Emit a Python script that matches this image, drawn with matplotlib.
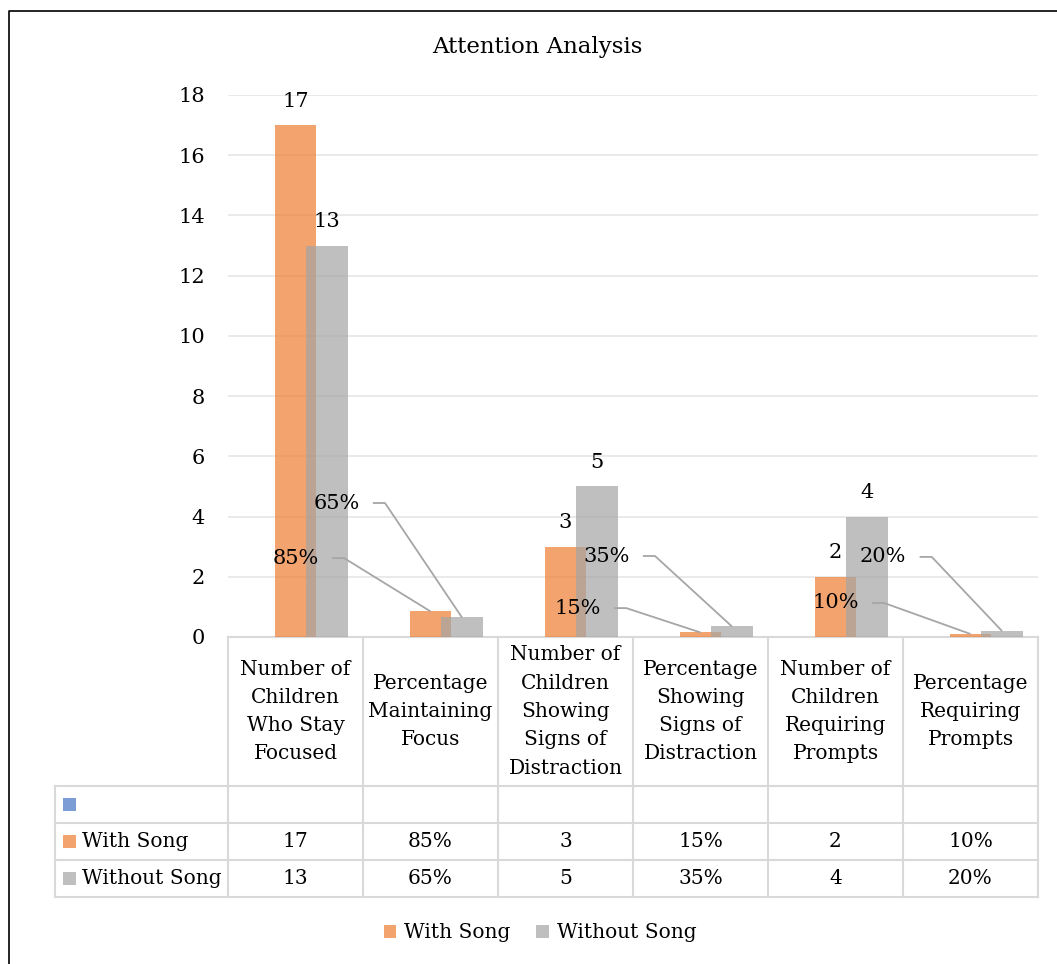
import numpy as np
import matplotlib.pyplot as plt
from matplotlib.lines import Line2D
from matplotlib.patches import Rectangle, Patch

plt.rcParams['font.family'] = ['DejaVu Serif']
plt.rcParams['font.size'] = 14.5

# data
title = 'Attention Analysis'
categories = ['Number of\nChildren\nWho Stay\nFocused',
              'Percentage\nMaintaining\nFocus',
              'Number of\nChildren\nShowing\nSigns of\nDistraction',
              'Percentage\nShowing\nSigns of\nDistraction',
              'Number of\nChildren\nRequiring\nPrompts',
              'Percentage\nRequiring\nPrompts']
series_names = ['', 'With Song', 'Without Song']
blank = [np.nan] * 6
with_song = [17, 0.85, 3, 0.15, 2, 0.10]
without_song = [13, 0.65, 5, 0.35, 4, 0.20]
is_pct = [False, True, False, True, False, True]
yticks = [0, 2, 4, 6, 8, 10, 12, 14, 16, 18]

series = [blank, with_song, without_song]
colors = ['#4472C4', '#ED7D31', '#A5A5A5']

# where the percentage labels were dragged to (data units, from bar top)
pct_offsets = {1: [(-1.00, 1.77), (-0.91, 0.81), (-1.00, 1.03)],
               2: [(-0.93, 3.80), (-0.93, 2.34), (-0.88, 2.46)]}


def fmt(v, pct):
    return f'{v * 100:.0f}%' if pct else f'{v:g}'


W, H = 1057, 964
fig = plt.figure(figsize=(W / 100, H / 100), dpi=100)


def fx(px):
    return px / W


def fy(py):
    return 1 - py / H


left, right, top, bottom = 228, 1038, 95, 637
ax = fig.add_axes([fx(left), fy(bottom), (right - left) / W, (bottom - top) / H])
ax.set_xlim(-0.5, 5.5)
ax.set_ylim(0, 18)
ax.set_yticks(yticks)

x = np.arange(len(categories))
width, step = 0.307, 0.233
for k, (vals, c) in enumerate(zip(series, colors)):
    ax.bar(x + (k - 1) * step, vals, width, color=c, alpha=0.7, linewidth=0, zorder=2 + k)

for s in ['left', 'right', 'top']:
    ax.spines[s].set_visible(False)
ax.spines['bottom'].set_color('#D9D9D9')
ax.spines['bottom'].set_linewidth(1.5)
ax.tick_params(axis='x', bottom=False, labelbottom=False)
ax.tick_params(axis='y', left=False, pad=13, labelsize=15)
ax.yaxis.grid(True, color='#E8E8E8', linewidth=1.3)
ax.set_axisbelow(True)

# data labels
for k in (1, 2):
    vals = series[k]
    n = 0
    for i, v in enumerate(vals):
        bx = x[i] + (k - 1) * step
        if not is_pct[i]:
            ax.annotate(fmt(v, False), (bx, v), xytext=(0, 24), textcoords='offset pixels',
                        ha='center', va='center', zorder=10, fontsize=15)
        else:
            dx, dy = pct_offsets[k][n]
            n += 1
            lx, ly = bx + dx, v + dy
            ax.text(lx, ly, fmt(v, True), ha='center', va='center', zorder=10, fontsize=15)
            ax.plot([lx + 0.27, lx + 0.36, bx], [ly, ly, v], color='#A6A6A6', lw=1.3,
                    zorder=9, solid_capstyle='butt')

# data table below the plot
lc, lw = '#D9D9D9', 1.5
col_edges = [left + i * (right - left) / 6 for i in range(7)]
rows = [637, 786, 823, 860, 897]
key_left = 55
for y in rows[1:]:
    fig.add_artist(Line2D([fx(key_left), fx(right)], [fy(y), fy(y)], color=lc, lw=lw))
fig.add_artist(Line2D([fx(key_left)] * 2, [fy(rows[1]), fy(rows[-1])], color=lc, lw=lw))
for xe in col_edges:
    fig.add_artist(Line2D([fx(xe)] * 2, [fy(rows[0]), fy(rows[-1])], color=lc, lw=lw))

centers = [(col_edges[i] + col_edges[i + 1]) / 2 for i in range(6)]
for cx, cat in zip(centers, categories):
    fig.text(fx(cx), fy((rows[0] + rows[1]) / 2), cat, ha='center', va='center',
             multialignment='center', linespacing=1.62)

for r, (name, vals, c) in enumerate(zip(series_names, series, colors)):
    yc = (rows[r + 1] + rows[r + 2]) / 2
    fig.add_artist(Rectangle((fx(63), fy(yc + 6.5)), 13 / W, 13 / H, color=c, alpha=0.7,
                             linewidth=0))
    if name:
        fig.text(fx(82), fy(yc), name, ha='left', va='center')
    for i, v in enumerate(vals):
        if not np.isnan(v):
            fig.text(fx(centers[i]), fy(yc), fmt(v, is_pct[i]), ha='center', va='center')

fig.text(fx(537), fy(47), title, ha='center', va='center', fontsize=16.5)

handles = [Patch(facecolor=c, alpha=0.7, linewidth=0) for c in colors[1:]]
fig.legend(handles, series_names[1:], loc='center', bbox_to_anchor=(fx(540), fy(933)),
           ncol=2, frameon=False, handlelength=0.6, handleheight=0.6,
           handletextpad=0.4, columnspacing=1.3)

# chart border
fig.add_artist(Line2D([fx(9), fx(9), fx(W)], [0, fy(11), fy(11)], color='black', lw=1.2))

fig.savefig('out.png', dpi=100)
